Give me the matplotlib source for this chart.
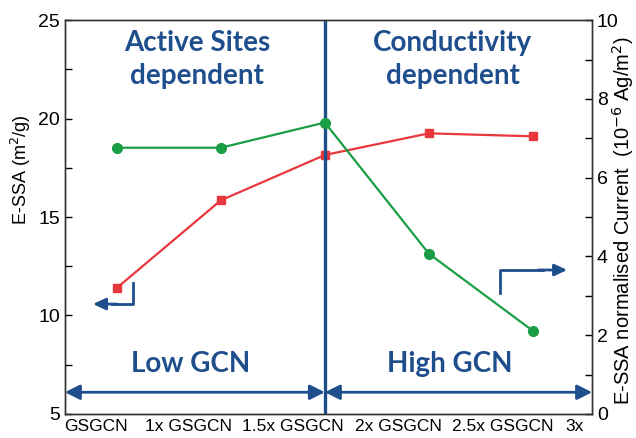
import matplotlib.pyplot as plt

plt.rcParams['font.family'] = ['Liberation Sans', 'DejaVu Sans']

# data
positions = [1, 2, 3, 4, 5]
essa = [11.4, 15.85, 18.15, 19.25, 19.1]            # left axis, m2/g
norm_current = [6.76, 6.76, 7.4, 4.07, 2.11]        # right axis, 1e-6 Ag/m2
tick_pos = [0.8, 1.69, 2.69, 3.71, 4.71, 5.4]
tick_labels = ['GSGCN', '1x GSGCN', '1.5x GSGCN', '2x GSGCN', '2.5x GSGCN', '3x']

blue = '#1f4e8c'
red = '#e8383d'
green = '#1a9e45'
bold_font = ['Lato', 'DejaVu Sans']

fig = plt.figure(figsize=(6.36, 4.38), dpi=100)
ax = fig.add_axes([0.102, 0.055, 0.829, 0.899])
ax2 = ax.twinx()

ax.plot(positions, essa, color=red, marker='s', markersize=6, linewidth=1.6, zorder=3)
ax2.plot(positions, norm_current, color=green, marker='o', markersize=7, linewidth=1.6, zorder=3)

ax.set_xlim(0.5, 5.57)
ax.set_ylim(5, 25)
ax2.set_ylim(0, 10)
ax.set_yticks([5, 10, 15, 20, 25])
ax.set_yticks([7.5, 12.5, 17.5, 22.5], minor=True)
ax2.set_yticks([0, 2, 4, 6, 8, 10])
ax2.set_yticks([1, 3, 5, 7, 9], minor=True)
ax.set_xticks(tick_pos)
ax.set_xticklabels(tick_labels, fontsize=12.5)

ax.tick_params(axis='y', which='both', direction='in', length=5, width=1, labelsize=14)
ax2.tick_params(axis='y', which='both', direction='in', length=5, width=1, labelsize=14)
ax.tick_params(axis='x', length=0, pad=4)

ax.set_ylabel('E-SSA (m$^2$/g)', fontsize=13)
ax.yaxis.set_label_coords(-0.061, 0.62)
ax2.set_ylabel('E-SSA normalised Current  (10$^{-6}$ Ag/m$^2$)', fontsize=14.5)
ax2.yaxis.set_label_coords(1.034, 0.49)

for a in (ax, ax2):
    for s in a.spines.values():
        s.set_color('#333333')
        s.set_linewidth(1)

# divider line
ax.axvline(3, color=blue, linewidth=2.4, zorder=4)

# region arrows
ax.annotate('', xy=(0.5, 6.1), xytext=(3, 6.1),
            arrowprops=dict(arrowstyle='<|-|>,head_length=0.9,head_width=0.45',
                            color=blue, lw=2, shrinkA=0, shrinkB=0))
ax.annotate('', xy=(3, 6.1), xytext=(5.57, 6.1),
            arrowprops=dict(arrowstyle='<|-|>,head_length=0.9,head_width=0.45',
                            color=blue, lw=2, shrinkA=0, shrinkB=0))

# bent arrows pointing to the axes
ax.plot([1.154, 1.154, 0.95], [11.65, 10.58, 10.58], color=blue, lw=2)
ax.annotate('', xy=(0.77, 10.58), xytext=(1.0, 10.58),
            arrowprops=dict(arrowstyle='-|>,head_length=0.75,head_width=0.35',
                            color=blue, lw=2, shrinkA=0, shrinkB=0))
ax.plot([4.68, 4.68, 5.1], [11.14, 12.31, 12.31], color=blue, lw=2)
ax.annotate('', xy=(5.33, 12.31), xytext=(5.05, 12.31),
            arrowprops=dict(arrowstyle='-|>,head_length=0.75,head_width=0.35',
                            color=blue, lw=2, shrinkA=0, shrinkB=0))

ax.text(1.77, 23.0, 'Active Sites\ndependent', ha='center', va='center', color=blue,
        fontsize=20, fontweight='bold', family=bold_font, linespacing=1.3)
ax.text(4.23, 23.0, 'Conductivity\ndependent', ha='center', va='center', color=blue,
        fontsize=20, fontweight='bold', family=bold_font, linespacing=1.3)
ax.text(1.71, 7.55, 'Low GCN', ha='center', va='center', color=blue,
        fontsize=20, fontweight='bold', family=bold_font)
ax.text(4.2, 7.55, 'High GCN', ha='center', va='center', color=blue,
        fontsize=20, fontweight='bold', family=bold_font)

fig.savefig('out.png', dpi=100)
